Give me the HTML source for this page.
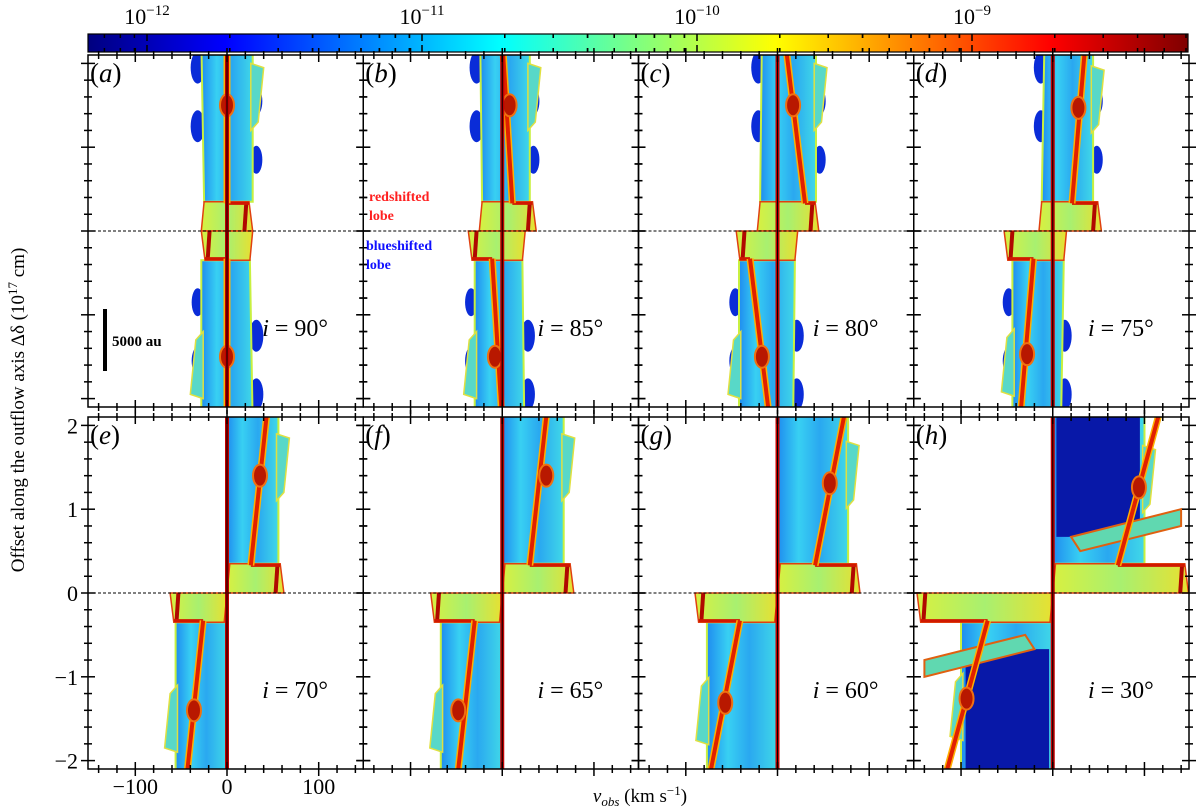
<!DOCTYPE html>
<html><head><meta charset="utf-8">
<style>
body{margin:0;background:#fff;}
svg{display:block;font-family:"Liberation Serif",serif;}
</style></head>
<body>
<svg id="fig" width="1200" height="810" viewBox="0 0 1200 810" xmlns="http://www.w3.org/2000/svg">
<defs>
<linearGradient id="jet" x1="0" x2="1" y1="0" y2="0">
<stop offset="0" stop-color="#00007f"/><stop offset="0.125" stop-color="#0000ff"/>
<stop offset="0.375" stop-color="#00ffff"/><stop offset="0.625" stop-color="#ffff00"/>
<stop offset="0.875" stop-color="#ff0000"/><stop offset="1" stop-color="#7f0000"/>
</linearGradient>
<linearGradient id="stripFill" x1="0" x2="1" y1="0" y2="0">
<stop offset="0" stop-color="#1f8cf0"/><stop offset="0.3" stop-color="#38d0f2"/>
<stop offset="0.6" stop-color="#2aa8f0"/><stop offset="1" stop-color="#40d8e8"/>
</linearGradient>
<linearGradient id="bandFill" x1="0" x2="1" y1="0" y2="0">
<stop offset="0" stop-color="#d8f040"/><stop offset="0.5" stop-color="#a8f070"/><stop offset="1" stop-color="#e8e030"/>
</linearGradient>
</defs>
<g id="cbar">
<rect x="88" y="34" width="1100" height="18" fill="url(#jet)" stroke="#000" stroke-width="1.2"/>
</g>
<g id="panels"></g>
<text x="0" y="0" transform="translate(24,410) rotate(-90)" text-anchor="middle" font-size="19">Offset along the outflow axis Δδ (10<tspan font-size="13" dy="-7">17</tspan><tspan dy="7"> cm)</tspan></text>
<text x="640" y="802" text-anchor="middle" font-size="19"><tspan font-style="italic">v</tspan><tspan font-style="italic" font-size="13" dy="4">obs</tspan><tspan dy="-4"> (km s</tspan><tspan font-size="13" dy="-7">−1</tspan><tspan dy="7">)</tspan></text>
</svg>
<script>
// ---- data ----
const panelLabels = ["a","b","c","d","e","f","g","h"];
const inclinations = [90,85,80,75,70,65,60,30];
const bandLo = [-28,-25,-22,-15,0,0,0,0];
const bandHi = [28,37,45,53,62,78,90,148];
const topLo = [-28,-24,-17,-9,0,0,0,0];
const topHi = [28,30,42,44,56,67,77,100];
const knotV = [0,8,17,28,36,48,57,94];
const knotY = [1.5,1.5,1.5,1.47,1.4,1.4,1.31,1.26];
const redLo = [0,11,30,21,26,30,41,71];
const redTop = [0,0,8,36,45,50,76,120];
const xTickMajor = [-100,0,100];
const yTickMajor = [-2,-1,0,1,2];
const cbarDecades = [-12,-11,-10,-9];

const NS="http://www.w3.org/2000/svg";
const svg=document.getElementById('fig');
const panelsG=document.getElementById('panels');
function mk(tag,attrs,parent){const e=document.createElementNS(NS,tag);for(const k in attrs)e.setAttribute(k,attrs[k]);(parent||svg).appendChild(e);return e;}

// colorbar ticks and labels
const cb=document.getElementById('cbar');
const cbX0=147, cbDec=275;
cbarDecades.forEach((d,i)=>{
  const x=cbX0+i*cbDec;
  const t=mk('text',{x:x,y:24,'text-anchor':'middle','font-size':'22'},cb);
  
  
  t.innerHTML='10<tspan font-size="15" dy="-9">−'+(-d)+'</tspan>';
  for(let k=1;k<=9;k++){
    const xx=x+Math.log10(k)*cbDec;
    if(xx<90||xx>1186) continue;
    const L=k===1?7:4;
    mk('line',{x1:xx,x2:xx,y1:34,y2:34+L,stroke:'#000','stroke-width':1.5},cb);
    mk('line',{x1:xx,x2:xx,y1:52,y2:52-L,stroke:'#000','stroke-width':1.5},cb);
  }
  for(let k=2;k<=9;k++){const xx=x-cbDec+Math.log10(k)*cbDec; if(xx>90&&xx<x){mk('line',{x1:xx,x2:xx,y1:34,y2:38,stroke:'#000','stroke-width':1.5},cb);mk('line',{x1:xx,x2:xx,y1:52,y2:48,stroke:'#000','stroke-width':1.5},cb);}}
});

const PW=275.25, PH=352, PXS=0.917, PYS=83.8;
panelLabels.forEach((lab,p)=>{
  const c=p%4, r=Math.floor(p/4);
  const x0=88+c*PW, y0=r===0?55:417;
  const X=v=>x0+139+v*PXS, Y=y=>y0+176-y*PYS;
  const g=mk('g',{},panelsG);
  
  
  const cp=mk('clipPath',{id:'clip'+p},g);
  mk('rect',{x:x0,y:y0,width:PW,height:PH},cp);
  const body=mk('g',{'clip-path':'url(#clip'+p+')'},g);
  [1,-1].forEach(s=>{
    const P=(v,y)=>X(s*v).toFixed(1)+','+Y(s*y).toFixed(1);
    const lobe=mk('g',{},body);
    
    
    // side bumps
    if(r===0){[1.25,1.95].forEach(yy=>{
      const b1=mk('ellipse',{cx:X(s*(topLo[p]-4)),cy:Y(s*yy),rx:7,ry:16,fill:'#0a2cd8'},lobe);
      
      const b2=mk('ellipse',{cx:X(s*(topHi[p]+4)),cy:Y(s*(yy-0.4)),rx:6,ry:14,fill:'#0a2cd8'},lobe);
      
    });}
    // main strip
    const strip=mk('polygon',{points:[P(topLo[p],2.3),P(topHi[p],2.3),P(topHi[p],0.35),P(bandLo[p]+(p>3?0:3),0.35)].join(' '),fill:'url(#stripFill)',stroke:'#c8f040','stroke-width':2},lobe);
    
    // bulge around knot
    const bul=mk('polygon',{points:[P(topHi[p]-2,knotY[p]+0.5),P(topHi[p]+12,knotY[p]+0.45),P(topHi[p]+6,knotY[p]-0.2),P(topHi[p]-2,knotY[p]-0.3)].join(' '),fill:'#58d8c8',stroke:'#e0e040','stroke-width':1.5},lobe);
    
    if(p===7){
      const db=mk('polygon',{points:[P(4,2.3),P(topHi[p]-5,2.3),P(topHi[p]-5,0.67),P(4,0.67)].join(' '),fill:'#0818a8'},lobe);
      
      const b2=mk('polygon',{points:[P(20,0.67),P(140,1.0),P(140,0.8),P(30,0.5)].join(' '),fill:'#60d8b0',stroke:'#e06010','stroke-width':2},lobe);
      
    }
    // band
    const band=mk('polygon',{points:[P(bandLo[p],0),P(bandHi[p],0),P(bandHi[p]-4,0.35),P(bandLo[p]+3,0.35)].join(' '),fill:'url(#bandFill)',stroke:'#e04010','stroke-width':1.5},lobe);
    
    const bs=mk('line',{x1:X(s*(bandHi[p]-9)),y1:Y(0),x2:X(s*(bandHi[p]-7)),y2:Y(s*0.33),stroke:'#b00800','stroke-width':4},lobe);
    
    const be=mk('line',{x1:X(s*redLo[p]),y1:Y(s*0.33),x2:X(s*(bandHi[p]-4)),y2:Y(s*0.33),stroke:'#d01800','stroke-width':3},lobe);
    
    // red ridge
    const rl0=mk('line',{x1:X(s*redLo[p]),y1:Y(s*0.33),x2:X(s*redTop[p]),y2:Y(s*2.3),stroke:'#ffb000','stroke-width':7},lobe);
    
    const rl=mk('line',{x1:X(s*redLo[p]),y1:Y(s*0.33),x2:X(s*redTop[p]),y2:Y(s*2.3),stroke:'#e02000','stroke-width':4},lobe);
    
    // knot
    const kn=mk('ellipse',{cx:X(s*knotV[p]),cy:Y(s*knotY[p]),rx:7,ry:11,fill:'#b81800',stroke:'#f07010','stroke-width':2},lobe);
    
  });
  // central line
  const cl=mk('line',{x1:X(0),x2:X(0),y1:y0,y2:y0+PH,stroke:'#c00000','stroke-width':4},body);
  
  mk('line',{x1:X(0),x2:X(0),y1:y0,y2:y0+PH,stroke:'#000','stroke-width':1},body);
  const dl=mk('line',{x1:x0,x2:x0+PW,y1:Y(0),y2:Y(0),stroke:'#000','stroke-width':1,'stroke-dasharray':'3,2'},body);
  
  // frame
  const fr=mk('rect',{x:x0,y:y0,width:PW,height:PH,fill:'none',stroke:'#000','stroke-width':1.5},g);
  
  // x ticks
  for(let v=-140;v<=140;v+=20){
    const maj=xTickMajor.includes(v), L=maj?7:4, xx=X(v);
    [y0,y0+PH].forEach(yy=>mk('line',{x1:xx,x2:xx,y1:yy-L,y2:yy+L,stroke:'#000','stroke-width':1.5},g));
  }
  for(let k=-10;k<=10;k++){
    const y=k/5, maj=yTickMajor.includes(y), L=maj?7:4, yy=Y(y);
    [x0,x0+PW].forEach(xx=>mk('line',{x1:xx-L,x2:xx+L,y1:yy,y2:yy,stroke:'#000','stroke-width':1.5},g));
  }
  if(p===4){
    xTickMajor.forEach(v=>{const t=mk('text',{x:X(v),y:794,'text-anchor':'middle','font-size':'22'},g);t.textContent=(v<0?'−':'')+Math.abs(v);
      });
    yTickMajor.forEach(y=>{const t=mk('text',{x:x0-10,y:Y(y)+8,'text-anchor':'end','font-size':'22'},g);t.textContent=(y<0?'−':'')+Math.abs(y);
      });
  }
  const pl=mk('text',{x:x0+2,y:y0+27,'font-size':'27'},g);
  pl.innerHTML='(<tspan font-style="italic">'+lab+'</tspan>)';
  
  const il=mk('text',{x:x0+240,y:y0+281,'text-anchor':'end','font-size':'24'},g);
  il.innerHTML='<tspan font-style="italic">i</tspan> = '+inclinations[p]+'°';
  
});
// annotations
const sb=mk('line',{x1:105,x2:105,y1:309,y2:371,stroke:'#000','stroke-width':4});

const st=mk('text',{x:112,y:346,'font-size':'15','font-weight':'bold'});st.textContent='5000 au';

const r1=mk('text',{x:369,y:201,'font-size':'14','font-weight':'bold',fill:'#ff2020'});r1.textContent='redshifted';

const r2=mk('text',{x:369,y:220,'font-size':'14','font-weight':'bold',fill:'#ff2020'});r2.textContent='lobe';

const b1=mk('text',{x:366,y:250,'font-size':'14','font-weight':'bold',fill:'#1010ff'});b1.textContent='blueshifted';

const b2=mk('text',{x:366,y:269,'font-size':'14','font-weight':'bold',fill:'#1010ff'});b2.textContent='lobe';

</script>
</body></html>
